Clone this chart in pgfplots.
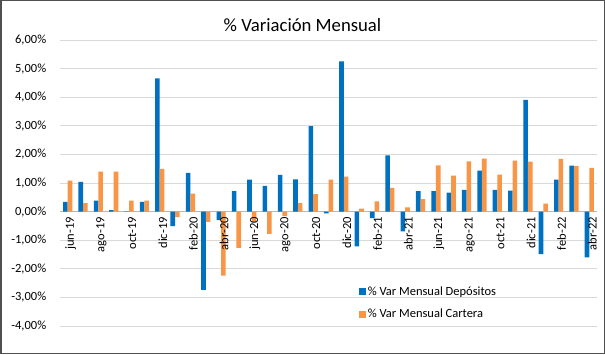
\documentclass[border=0pt]{standalone}
\usepackage{pgfplots}
\pgfplotsset{compat=1.18}
\usepackage{fontspec}
\setmainfont{Carlito}
\definecolor{dep}{HTML}{0070C0}
\definecolor{car}{HTML}{F79646}
\definecolor{grd}{HTML}{D9D9D9}
\definecolor{frm}{HTML}{505050}
\pgfplotsset{
  base/.style={
    at={(60pt,28pt)}, anchor=south west,
    scale only axis, width=537pt, height=286pt,
    xmin=-0.5, xmax=34.5, ymin=-4, ymax=6,
  }
}
\begin{document}
\begin{tikzpicture}[x=1pt,y=1pt]
\useasboundingbox (0,0) rectangle (605,354);
\fill[white] (0,0) rectangle (605,354);
\begin{axis}[
  base,
  axis x line=middle, axis y line=left,
  axis line style={-},
  x axis line style={draw=grd!85!black},
  y axis line style={draw=none},
  hide obscured x ticks=false, hide obscured y ticks=false,
  ybar=0pt, bar width=4.6pt,
  xtick=\empty,
  minor xtick={-0.5,1.5,...,33.5},
  minor x tick style={draw=grd!85!black},
  minor tick length=4pt,
  tick align=outside,
  ytick={-4,-3,...,6},
  major y tick style={draw=none},
  ymajorgrids, grid style={grd, line width=0.8pt},
  /pgf/number format/assume math mode=true,
  yticklabel={\pgfmathprintnumber[fixed,fixed zerofill,precision=2,use comma]{\tick}\%},
  yticklabel style={font=\fontsize{12.5}{14}\selectfont, xshift=-6pt},
  legend style={at={(0.556,0.145)}, anchor=north west, draw=none, fill=none,
    font=\fontsize{12.5}{14}\selectfont, row sep=8pt, inner sep=0pt},
  legend cell align=left,
]
\addplot[fill=dep, draw=none,
  legend image code/.code={\fill[dep] (0pt,-3.5pt) rectangle (7pt,3.5pt);}]
coordinates {
(0,0.34) (1,1.04) (2,0.38) (3,0.05) (4,0.01) (5,0.34) (6,4.66) (7,-0.51)
(8,1.35) (9,-2.74) (10,-0.30) (11,0.72) (12,1.12) (13,0.90) (14,1.28)
(15,1.13) (16,2.99) (17,-0.06) (18,5.25) (19,-1.22) (20,-0.23) (21,1.97)
(22,-0.69) (23,0.72) (24,0.72) (25,0.66) (26,0.76) (27,1.43) (28,0.76)
(29,0.73) (30,3.91) (31,-1.49) (32,1.12) (33,1.61) (34,-1.60)
};
\addlegendentry{\% Var Mensual Depósitos}
\addplot[fill=car, draw=none,
  legend image code/.code={\fill[car] (0pt,-3.5pt) rectangle (7pt,3.5pt);}]
coordinates {
(0,1.08) (1,0.30) (2,1.40) (3,1.40) (4,0.38) (5,0.38) (6,1.49) (7,-0.19)
(8,0.63) (9,-0.36) (10,-2.24) (11,-1.27) (12,-0.37) (13,-0.78) (14,-0.16)
(15,0.30) (16,0.61) (17,1.12) (18,1.22) (19,0.10) (20,0.36) (21,0.83)
(22,0.15) (23,0.44) (24,1.62) (25,1.26) (26,1.76) (27,1.85) (28,1.29)
(29,1.78) (30,1.75) (31,0.28) (32,1.84) (33,1.59) (34,1.53)
};
\addlegendentry{\% Var Mensual Cartera}
\end{axis}
\begin{axis}[
  base,
  axis x line=middle, axis y line=none,
  axis line style={draw=none},
  hide obscured x ticks=false,
  xtick={0,2,...,34},
  xticklabels={jun-19,ago-19,oct-19,dic-19,feb-20,abr-20,jun-20,ago-20,oct-20,dic-20,feb-21,abr-21,jun-21,ago-21,oct-21,dic-21,feb-22,abr-22},
  major x tick style={draw=none},
  ytick=\empty,
  xticklabel style={rotate=90, anchor=east, font=\fontsize{12.5}{14}\selectfont, yshift=-3pt},
]
\end{axis}
\node[font=\fontsize{18.7}{22}\selectfont] at (302.5,329) {\% Variación Mensual};
\draw[frm, line width=1.5pt] (0.75,0.75) rectangle (604.25,353.25);
\end{tikzpicture}
\end{document}
